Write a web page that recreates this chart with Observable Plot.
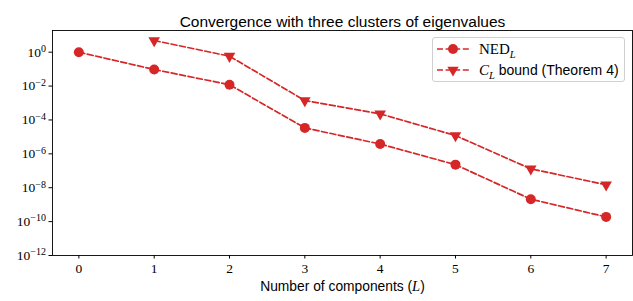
<!DOCTYPE html>
<html>
<head>
<meta charset="utf-8">
<script src="https://cdn.jsdelivr.net/npm/d3@7"></script>
<script src="https://cdn.jsdelivr.net/npm/@observablehq/plot@0.6"></script>
<style>
  body { margin: 0; background: #fff; }
  #wrap { position: relative; width: 633px; height: 301px; }
  #legend { position: absolute; left: 432px; top: 37px; width: 191px; height: 43px;
    border: 1px solid #d0d0d0; border-radius: 3px; background: rgba(255,255,255,0.85);
    font-family: "Liberation Sans", sans-serif; font-size: 14px; color: #000; }
  .row { position: absolute; left: 3px; height: 20px; display: flex; align-items: center; }
  .row svg { margin-right: 9px; }
  .math { font-family: "Liberation Serif", serif; font-size: 15px; }
  sub { line-height: 0; }
</style>
</head>
<body>
<div id="wrap">
  <div id="legend">
    <div class="row" style="top:1px"><svg width="34" height="20"></svg><span class="math">NED<sub style="font-style:italic;font-size:10.5px">L</sub></span></div>
    <div class="row" style="top:22px"><svg width="34" height="20"></svg><span><span class="math" style="font-style:italic">C<sub style="font-size:10.5px">L</sub></span> bound (Theorem 4)</span></div>
  </div>
</div>
<script>
const components = [0, 1, 2, 3, 4, 5, 6, 7];
const nedValues = [1, 0.095, 0.012, 3.4e-5, 3.8e-6, 2.3e-7, 2.1e-9, 1.9e-10];
const boundComponents = [1, 2, 3, 4, 5, 6, 7];
const boundValues = [4.9, 0.58, 1.4e-3, 2.3e-4, 1.2e-5, 1.3e-7, 1.5e-8];
const yTickValues = [1, 1e-2, 1e-4, 1e-6, 1e-8, 1e-10, 1e-12];
const titleText = "Convergence with three clusters of eigenvalues";
const xLabelText = "Number of components (L)";

const red = "#d62728";
const ned = components.map((c, i) => ({x: c, y: nedValues[i]}));
const bound = boundComponents.map((c, i) => ({x: c, y: boundValues[i]}));

const expOf = v => Math.round(Math.log10(v));
const fmtPow = v => "10^" + expOf(v);

const dash = "6,2.6";
const chart = Plot.plot({
  width: 633, height: 301,
  marginLeft: 52, marginRight: 1, marginTop: 30, marginBottom: 46,
  style: {fontFamily: "Liberation Serif, serif", fontSize: "13px", background: "white", color: "black"},
  x: {domain: [-0.35, 7.35]},
  y: {type: "log", domain: [1e-12, Math.pow(10, 1.28)]},
  marks: [
    Plot.frame({stroke: "black", strokeWidth: 0.9}),
    Plot.axisX({ticks: components, tickSize: 3.5, tickPadding: 4, tickFormat: d => String(d), label: null, fontSize: 13.5}),
    Plot.axisY({ticks: yTickValues, tickSize: 3.5, tickPadding: 3, tickFormat: fmtPow, label: null, fontSize: 13.5}),
    Plot.line(ned, {x: "x", y: "y", stroke: red, strokeWidth: 1.7, strokeDasharray: dash}),
    Plot.line(bound, {x: "x", y: "y", stroke: red, strokeWidth: 1.7, strokeDasharray: dash}),
    Plot.dot(ned, {x: "x", y: "y", fill: red, r: 5, symbol: "circle"}),
    Plot.dot(bound, {x: "x", y: "y", fill: red, r: 4.3, symbol: "triangle", rotate: 180}),
    Plot.text([titleText], {frameAnchor: "top", dy: -15, fontFamily: "Liberation Sans, sans-serif", fontSize: 15.5, fill: "black"}),
    Plot.text([xLabelText], {frameAnchor: "bottom", dy: 35, fontFamily: "Liberation Sans, sans-serif", fontSize: 13.8, fill: "black"})
  ]
});
document.getElementById("wrap").prepend(chart);

// superscript exponents on y tick labels
d3.select(chart).selectAll('g[aria-label="y-axis tick label"] text').each(function() {
  const t = d3.select(this);
  const s = t.text();
  if (!s.startsWith("10^")) return;
  const e = s.slice(3).replace("-", "\u2212");
  t.text(null);
  t.append("tspan").text("10");
  t.append("tspan").attr("dy", "-0.45em").attr("font-size", "10px").text(e);
});
// italic L in x label
d3.select(chart).selectAll("text").each(function() {
  const t = d3.select(this);
  if (t.text() === xLabelText) {
    t.text(null);
    t.append("tspan").text("Number of components (");
    t.append("tspan").attr("font-style", "italic").attr("font-family", "Liberation Serif, serif").attr("font-size", "14.5px").text("L");
    t.append("tspan").text(")");
  }
});

// legend swatches
const swatches = document.querySelectorAll("#legend svg");
const symbols = [d3.symbolCircle, d3.symbolTriangle];
swatches.forEach((el, i) => {
  const s = d3.select(el);
  s.append("line").attr("x1", 1).attr("x2", 33).attr("y1", 10).attr("y2", 10)
    .attr("stroke", red).attr("stroke-width", 1.7).attr("stroke-dasharray", dash);
  s.append("path").attr("d", d3.symbol(symbols[i], i === 0 ? Math.PI * 25 : 55)())
    .attr("transform", `translate(17,10) rotate(${i === 0 ? 0 : 180})`).attr("fill", red);
});
</script>
</body>
</html>
